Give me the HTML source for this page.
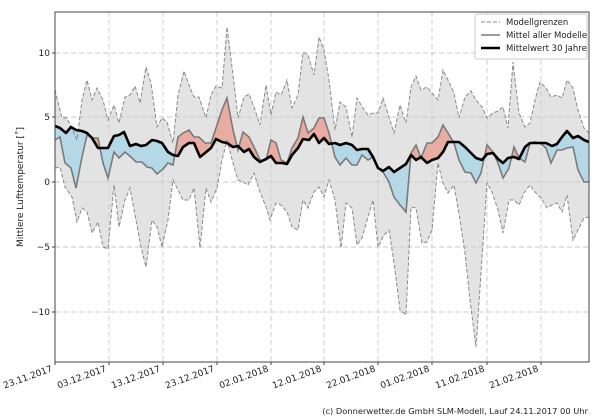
<!DOCTYPE html>
<html><head><meta charset="utf-8">
<style>
html,body{margin:0;padding:0;background:#fff;}
svg{display:block;font-family:"DejaVu Sans","Liberation Sans",sans-serif;}
</style></head>
<body>
<svg id="s" width="600" height="420" viewBox="0 0 600 420" xmlns="http://www.w3.org/2000/svg">
<defs>
<clipPath id="plot"><rect x="55" y="12" width="534" height="350"/></clipPath>
<clipPath id="above"><path id="abovep" d=""/></clipPath>
<clipPath id="below"><path id="belowp" d=""/></clipPath>
</defs>
<rect x="0" y="0" width="600" height="420" fill="#fff"/>
<g clip-path="url(#plot)">
<path id="band" fill="#e3e3e3" stroke="none"/>
<g stroke="#c8c8c8" stroke-width="0.9" stroke-dasharray="5,3" fill="none">
<line x1="109" y1="12" x2="109" y2="362"/><line x1="163" y1="12" x2="163" y2="362"/>
<line x1="217" y1="12" x2="217" y2="362"/><line x1="271" y1="12" x2="271" y2="362"/>
<line x1="324" y1="12" x2="324" y2="362"/><line x1="378" y1="12" x2="378" y2="362"/>
<line x1="432" y1="12" x2="432" y2="362"/><line x1="487" y1="12" x2="487" y2="362"/>
<line x1="541" y1="12" x2="541" y2="362"/>
<line x1="55" y1="53" x2="589" y2="53"/><line x1="55" y1="117" x2="589" y2="117"/>
<line x1="55" y1="182" x2="589" y2="182"/><line x1="55" y1="247" x2="589" y2="247"/>
<line x1="55" y1="312" x2="589" y2="312"/>
</g>
<path id="red" fill="#e8ada0" clip-path="url(#above)"/>
<path id="blue" fill="#b5d8e6" clip-path="url(#below)"/>
<polyline id="up" fill="none" stroke="#8a8a8a" stroke-width="1" stroke-dasharray="4,2"/>
<polyline id="lo" fill="none" stroke="#8a8a8a" stroke-width="1" stroke-dasharray="4,2"/>
<polyline id="gm" fill="none" stroke="#7a7a7a" stroke-width="1.6"/>
<polyline id="bk" fill="none" stroke="#000" stroke-width="2.6" stroke-linejoin="round"/>
</g>
<rect x="55" y="12" width="534" height="350" fill="none" stroke="#444" stroke-width="1"/>
<g font-size="9" fill="#222" text-anchor="end">
<text x="50" y="56">10</text><text x="50" y="120">5</text><text x="50" y="185">0</text>
<text x="50" y="250">−5</text><text x="50" y="315">−10</text>
</g>
<g stroke="#444"><line x1="52" y1="53" x2="55" y2="53"/><line x1="52" y1="117" x2="55" y2="117"/><line x1="52" y1="182" x2="55" y2="182"/><line x1="52" y1="247" x2="55" y2="247"/><line x1="52" y1="312" x2="55" y2="312"/></g>
<text transform="translate(23,187) rotate(-90)" font-size="9" text-anchor="middle" fill="#222">Mittlere Lufttemperatur [˚]</text>
<g id="xl" font-size="9" fill="#222" text-anchor="end"></g>
<g transform="translate(475,14)">
<rect x="0" y="0" width="112" height="45" fill="#fff" fill-opacity="0.85" stroke="#ccc" rx="2"/>
<line x1="6" y1="8" x2="25" y2="8" stroke="#8a8a8a" stroke-dasharray="4,2"/>
<line x1="6" y1="21" x2="25" y2="21" stroke="#7a7a7a" stroke-width="1.6"/>
<line x1="6" y1="34" x2="25" y2="34" stroke="#000" stroke-width="2.6"/>
<g font-size="8.5" fill="#222"><text x="31" y="11">Modellgrenzen</text><text x="31" y="24">Mittel aller Modelle</text><text x="31" y="37">Mittelwert 30 Jahre</text></g>
</g>
<text x="588" y="414" font-size="8.3" text-anchor="end" fill="#222">(c) Donnerwetter.de GmbH SLM-Modell, Lauf 24.11.2017 00 Uhr</text>
</svg>
<script>
var U=[[55,90],[62,118],[67,118],[77,140],[82,100],[87,80],[92,100],[97,88],[103,100],[108,120],[114,105],[119,123],[125,97],[130,95],[135,86],[140,103],[146,67],[151,83],[157,127],[162,118],[167,122],[173,143],[178,95],[184,71],[189,85],[194,97],[199,97],[206,118],[211,95],[216,86],[222,88],[227,27],[233,75],[238,118],[244,97],[249,94],[254,107],[260,125],[266,85],[271,115],[276,92],[281,95],[287,80],[292,108],[298,95],[303,52],[308,55],[314,75],[319,37],[324,50],[329,80],[335,130],[340,102],[346,107],[352,137],[357,98],[363,108],[368,115],[373,113],[378,113],[383,98],[389,117],[394,133],[400,105],[406,123],[411,87],[416,76],[421,90],[427,87],[432,93],[438,100],[443,70],[448,80],[454,93],[459,118],[465,97],[471,91],[476,100],[482,107],[487,118],[493,113],[498,111],[503,107],[508,128],[513,62],[519,113],[525,127],[530,123],[535,100],[540,82],[546,88],[551,97],[557,95],[562,98],[567,80],[573,88],[578,110],[584,128],[589,133]];
var L=[[55,168],[60,167],[65,187],[72,197],[77,222],[82,208],[87,212],[92,233],[98,222],[103,247],[108,249],[114,185],[119,227],[125,200],[130,188],[136,220],[141,247],[146,267],[152,220],[157,227],[162,247],[168,220],[173,180],[178,190],[183,200],[189,200],[194,188],[200,248],[206,188],[211,202],[217,188],[222,160],[227,140],[233,163],[238,180],[243,182],[248,185],[254,173],[260,192],[266,207],[270,220],[276,203],[281,205],[287,212],[292,227],[298,230],[303,200],[308,208],[314,192],[319,187],[324,197],[329,180],[335,200],[341,248],[346,203],[352,208],[357,245],[362,238],[368,217],[373,200],[378,247],[384,235],[389,230],[394,263],[400,310],[406,315],[411,207],[416,208],[422,243],[427,242],[432,230],[438,163],[443,183],[448,193],[454,185],[460,220],[465,253],[470,300],[476,347],[481,273],[487,183],[492,192],[498,210],[503,233],[509,200],[514,200],[519,205],[524,193],[530,185],[535,192],[541,198],[547,208],[552,205],[557,203],[562,212],[567,195],[573,240],[578,230],[584,218],[589,217]];
var G=[[55,140],[60,137],[65,163],[71,168],[76,188],[82,157],[87,135],[93,138],[98,138],[103,163],[108,178],[114,152],[119,158],[125,152],[131,157],[136,162],[142,162],[147,167],[152,168],[157,174],[163,169],[168,163],[173,165],[178,137],[183,133],[189,130],[194,137],[199,137],[205,143],[211,143],[216,128],[222,110],[227,98],[233,130],[238,150],[243,132],[249,137],[254,147],[260,160],[266,160],[271,140],[276,143],[281,160],[287,163],[292,148],[298,138],[303,117],[308,133],[314,128],[319,118],[324,118],[329,133],[335,157],[340,165],[346,158],[352,165],[357,165],[362,155],[368,160],[373,157],[378,168],[383,172],[389,182],[394,197],[400,205],[406,212],[411,153],[416,145],[421,158],[427,143],[432,143],[438,137],[443,125],[448,133],[454,143],[459,160],[465,172],[471,173],[476,183],[481,173],[487,145],[493,152],[498,163],[503,178],[509,168],[514,147],[519,158],[525,162],[530,143],[535,142],[540,143],[546,148],[551,163],[557,150],[562,150],[567,148],[573,147],[578,170],[584,182],[589,182]];
var B=[[55,126],[60,128],[66,133],[71,127],[76,130],[82,131],[87,133],[92,138],[98,148],[103,148],[108,148],[114,136],[119,135],[124,132],[130,146],[136,144],[141,146],[146,145],[152,140],[157,141],[162,143],[168,152],[173,155],[178,156],[183,147],[189,143],[194,143],[200,157],[205,153],[211,148],[216,139],[222,142],[227,143],[233,147],[238,146],[244,152],[249,149],[254,157],[260,162],[266,159],[271,156],[276,163],[282,163],[287,164],[292,155],[298,148],[303,139],[309,140],[314,134],[319,143],[324,138],[329,144],[335,143],[340,145],[346,143],[352,145],[357,150],[362,149],[368,149],[373,157],[378,168],[383,171],[389,167],[394,172],[400,168],[406,164],[411,155],[416,160],[421,157],[427,163],[432,160],[438,158],[443,152],[448,142],[454,142],[459,142],[465,147],[471,153],[476,158],[482,160],[487,154],[493,153],[498,159],[503,163],[508,158],[514,157],[519,159],[525,147],[530,143],[535,143],[540,143],[546,143],[552,146],[557,144],[562,137],[567,131],[573,138],[578,136],[584,140],[589,142]];
function pts(a){return a.map(function(p){return p[0]+","+p[1]}).join(" ");}
function d(a){return "M"+a.map(function(p){return p[0]+" "+p[1]}).join(" L");}
var rev=function(a){return a.slice().reverse();};
document.getElementById("band").setAttribute("d",d(U.concat(rev(L)))+"Z");
var fb=d(G.concat(rev(B)))+"Z";
document.getElementById("red").setAttribute("d",fb);
document.getElementById("blue").setAttribute("d",fb);
document.getElementById("abovep").setAttribute("d",d([[55,0]].concat(B,[[589,0]]))+"Z");
document.getElementById("belowp").setAttribute("d",d([[55,420]].concat(B,[[589,420]]))+"Z");
document.getElementById("up").setAttribute("points",pts(U));
document.getElementById("lo").setAttribute("points",pts(L));
document.getElementById("gm").setAttribute("points",pts(G));
document.getElementById("bk").setAttribute("points",pts(B));
var labs=["23.11.2017","03.12.2017","13.12.2017","23.12.2017","02.01.2018","12.01.2018","22.01.2018","01.02.2018","11.02.2018","21.02.2018"];
var xs=[55,109,163,217,271,324,378,432,487,541];
var g=document.getElementById("xl"),ns="http://www.w3.org/2000/svg",s=document.getElementById("s");
for(var i=0;i<labs.length;i++){
 var t=document.createElementNS(ns,"text");
 t.setAttribute("transform","translate("+(xs[i]-2)+",371) rotate(-20)");
 t.textContent=labs[i];g.appendChild(t);
 var l=document.createElementNS(ns,"line");
 l.setAttribute("x1",xs[i]);l.setAttribute("x2",xs[i]);l.setAttribute("y1",362);l.setAttribute("y2",365);l.setAttribute("stroke","#444");s.appendChild(l);
}
</script>
</body></html>
